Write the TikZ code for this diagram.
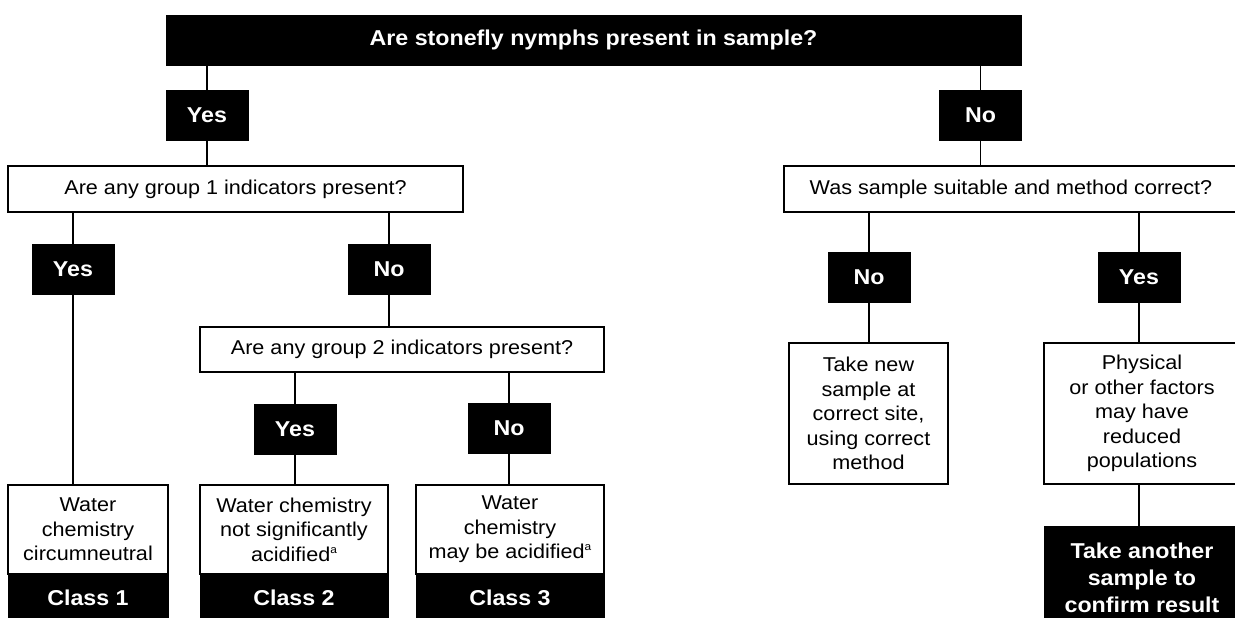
\documentclass[tikz,border=0pt]{standalone}
\usepackage{fontspec}
\setmainfont[FakeStretch=1.08]{Liberation Sans}
\usetikzlibrary{positioning}

\newcommand{\supa}{\raisebox{0.75ex}{\fontsize{11}{11}\selectfont a}}
\tikzset{
  qbox/.style={draw,line width=1.8pt,fill=white,inner sep=0pt,align=center,
    minimum height=46pt,font=\fontsize{20}{24.5}\selectfont},
  res/.style={qbox,minimum height=89pt},
  ans/.style={draw,fill=black,text=white,inner sep=0pt,minimum width=82pt,
    minimum height=50pt,font=\fontsize{21.5}{27}\selectfont\bfseries},
  cls/.style={ans,align=center,minimum height=46pt},
  link/.style={line width=1.4pt}
}

\begin{document}
\begin{tikzpicture}[x=1pt,y=-1pt]
  \useasboundingbox (0,0) rectangle (1235,618);
  \node[ans,minimum width=855pt](top) at (593.5,40){Are stonefly nymphs present in sample?};
  \node[ans](yesA) at (207,115){Yes};
  \node[ans](noA) at (980.5,115){No};
  \node[qbox,minimum width=455pt](grpA) at (235.5,189){Are any group 1 indicators present?};
  \node[ans](yesB) at (73,269){Yes};
  \node[ans](noB) at (389,269){No};
  \node[qbox,minimum width=404pt,minimum height=45pt](grpB) at (402,349.5){Are any group 2 indicators present?};
  \node[ans](yesC) at (295,429){Yes};
  \node[ans](noC) at (509,428){No};
  \node[res,minimum width=160pt](resA) at (88,529.5){Water\\chemistry\\circumneutral};
  \node[cls,minimum width=160pt,below=0pt of resA](clsA){Class 1};
  \node[res,minimum width=188pt](resB) at (294,529.5){Water chemistry\\not significantly\\acidified\supa};
  \node[cls,minimum width=188pt,below=0pt of resB](clsB){Class 2};
  \node[res,minimum width=188pt](resC) at (510,529.5){Water\\chemistry\\may be acidified\supa};
  \node[cls,minimum width=188pt,below=0pt of resC](clsC){Class 3};
  \node[qbox,minimum width=454pt](suit) at (1011,189){Was sample suitable and method correct?};
  \node[ans](noD) at (869,277){No};
  \node[ans](yesD) at (1139,277){Yes};
  \node[res,minimum width=159pt,minimum height=141pt](resD) at (868.5,413.5){Take new\\sample at\\correct site,\\using correct\\method};
  \node[res,minimum width=196pt,minimum height=141pt](resE) at (1142,413.5){Physical\\or other factors\\may have\\reduced\\populations};
  \node[cls,minimum width=196pt,minimum height=104pt,below=41pt of resE](again){Take another\\sample to\\confirm result};

  \draw[link](top.south -| yesA.north)--(yesA.north);
  \draw[link](yesA.south)--(yesA.south |- grpA.north);
  \draw[link](top.south -| noA.north)--(noA.north);
  \draw[link](noA.south)--(noA.south |- suit.north);
  \draw[link](grpA.south -| yesB.north)--(yesB.north);
  \draw[link](grpA.south -| noB.north)--(noB.north);
  \draw[link](yesB.south)--(yesB.south |- resA.north);
  \draw[link](noB.south)--(noB.south |- grpB.north);
  \draw[link](grpB.south -| yesC.north)--(yesC.north);
  \draw[link](grpB.south -| noC.north)--(noC.north);
  \draw[link](yesC.south)--(yesC.south |- resB.north);
  \draw[link](noC.south)--(noC.south |- resC.north);
  \draw[link](suit.south -| noD.north)--(noD.north);
  \draw[link](suit.south -| yesD.north)--(yesD.north);
  \draw[link](noD.south)--(noD.south |- resD.north);
  \draw[link](yesD.south)--(yesD.south |- resE.north);
  \draw[link](resE.south -| yesD.south)--(again.north -| yesD.south);
\end{tikzpicture}
\end{document}
